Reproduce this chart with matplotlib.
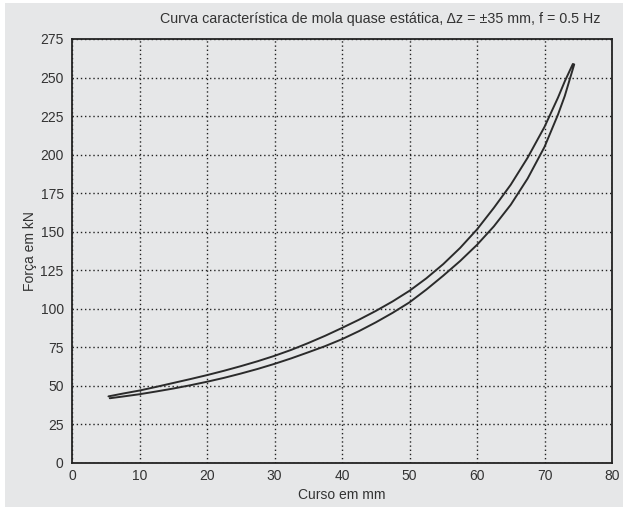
import numpy as np
import matplotlib.pyplot as plt
from matplotlib.patches import Rectangle

plt.rcParams['font.family'] = ['Liberation Sans', 'DejaVu Sans']

# lower branch of the loop (left tip -> right tip)
x_low = [5.6, 7.5, 10, 12.5, 15, 17.5, 20, 22.5, 25, 27.5, 30, 32.5, 35, 37.5, 40,
         42.5, 45, 47.5, 50, 52.5, 55, 57.5, 60, 62.5, 65, 67.5, 70, 72, 73, 74.4]
f_low = [42.0, 43.1, 44.6, 46.4, 48.3, 50.4, 52.7, 55.2, 58, 61, 64.3, 67.9, 71.8, 75.8, 80.3,
         85.5, 91.2, 97.4, 104.2, 112.5, 121.5, 131, 141.5, 153.5, 167.5, 184.5, 205, 226, 238, 258.5]
# upper branch (right tip -> left tip)
x_up = [74.2, 73, 72, 70, 67.5, 65, 62.5, 60, 57.5, 55, 52.5, 50, 47.5, 45, 42.5,
        40, 37.5, 35, 32.5, 30, 27.5, 25, 22.5, 20, 17.5, 15, 12.5, 10, 7.5, 5.4]
f_up = [258.8, 247.5, 237, 218, 198, 180.5, 165.5, 151.5, 139.5, 129, 119.8, 111.7, 104.8, 98.6, 92.9,
        87.6, 82.5, 77.8, 73.4, 69.5, 66, 62.8, 59.8, 57, 54.4, 51.9, 49.4, 47, 45, 43.2]

xticks = np.arange(0, 81, 10)
yticks = np.arange(0, 276, 25)

bg = '#e6e7e8'
txt = '#333333'

fig = plt.figure(figsize=(6.23, 5.07), dpi=100)
fig.patch.set_facecolor('white')
fig.patches.append(Rectangle((5/623, 0), 1, 1 - 3/507, transform=fig.transFigure,
                             facecolor=bg, edgecolor='none', zorder=-10))
ax = fig.add_axes([72/623, 1 - 463/507, 540/623, 424/507])
ax.set_facecolor(bg)

ax.plot(x_low + x_up, f_low + f_up, color='#2b2b2b', lw=1.4,
        solid_joinstyle='round', solid_capstyle='round')

ax.set_xlim(0, 80)
ax.set_ylim(0, 275)
ax.set_xticks(xticks)
ax.set_yticks(yticks)
ax.tick_params(length=0, labelsize=10, labelcolor=txt)
ax.tick_params(axis='y', pad=6)
ax.tick_params(axis='x', pad=4)
ax.grid(True, color='#222222', linestyle=(0, (1, 2)), linewidth=1.0)
for s in ax.spines.values():
    s.set_color('#222222')
    s.set_linewidth(1.3)

ax.set_xlabel('Curso em mm', fontsize=10, color=txt, labelpad=4)
ax.set_ylabel('Força em kN', fontsize=10, color=txt, labelpad=2)
fig.text(600/623, 1 - 19/507, 'Curva característica de mola quase estática, \u0394z = \u00b135 mm, f = 0.5 Hz',
         ha='right', va='center', fontsize=10.3, color=txt)

fig.savefig('out.png', dpi=100, facecolor=fig.get_facecolor())
